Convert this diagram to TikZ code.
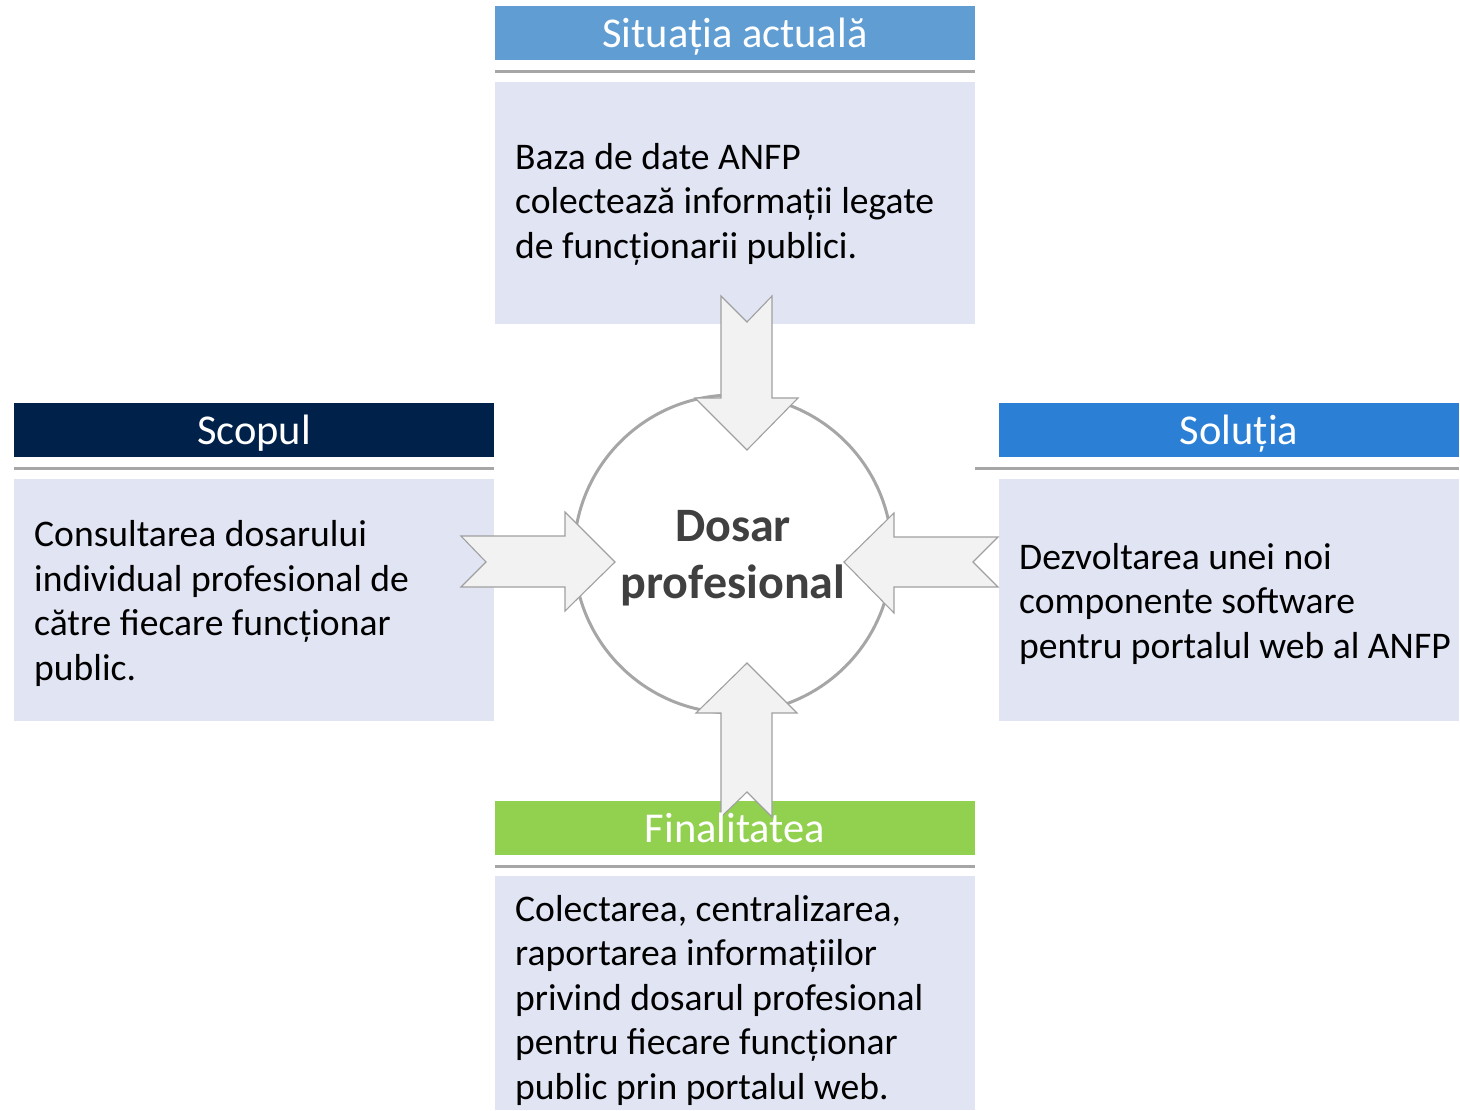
\documentclass[tikz,border=0pt]{standalone}
\usepackage{fontspec}
\setmainfont{Carlito}
\definecolor{hdrTop}{HTML}{5F9DD3}
\definecolor{hdrLeft}{HTML}{00214A}
\definecolor{hdrRight}{HTML}{2B80D6}
\definecolor{hdrBottom}{HTML}{92D050}
\definecolor{bodyFill}{HTML}{E1E4F2}
\definecolor{lineGray}{HTML}{A6A6A6}
\definecolor{arrowFill}{HTML}{F2F2F2}
\definecolor{arrowLine}{HTML}{A0A0A0}
\definecolor{darkText}{HTML}{404040}
\begin{document}
\begin{tikzpicture}[x=1pt,y=-1pt,
  hdr/.style={anchor=base,text=white,inner sep=0pt,font=\fontsize{42.5}{48}\selectfont},
  bodytext/.style={anchor=base west,align=left,inner sep=0pt,text=black,font=\fontsize{37.6}{44.4}\selectfont},
  divider/.style={draw=lineGray,line width=3pt},
  blockarrow/.style={draw=arrowLine,fill=arrowFill,line width=1.1pt,line join=miter}]
\useasboundingbox (0,0) rectangle (1460,1111);
% centre circle
\node[circle,draw=lineGray,line width=3pt,minimum size=318pt,inner sep=0pt] (c) at (733,554) {};
% header bars
\fill[hdrTop] (495,6) rectangle (975,60);
\fill[hdrLeft] (14,403) rectangle (494,457);
\fill[hdrRight] (999,403) rectangle (1459,457);
\fill[hdrBottom] (495,801) rectangle (975,855);
% divider lines
\draw[divider] (495,71) -- (975,71);
\draw[divider] (14,468) -- (494,468);
\draw[divider] (975,468) -- (1459,468);
\draw[divider] (495,866) -- (975,866);
% body boxes
\fill[bodyFill] (495,82) rectangle (975,324);
\fill[bodyFill] (14,479) rectangle (494,721);
\fill[bodyFill] (999,479) rectangle (1459,721);
\fill[bodyFill] (495,876) rectangle (975,1110);
% block arrows
\draw[blockarrow] (721,296) -- (747,322) -- (772,296) -- (772,398) -- (798,398) -- (747,450) -- (695,398) -- (721,398) -- cycle;
\draw[blockarrow] (461,536) -- (565,536) -- (565,512) -- (615,562) -- (565,611) -- (565,587) -- (461,587) -- (486,562) -- cycle;
\draw[blockarrow] (998,537) -- (894,537) -- (894,513) -- (844,562) -- (894,613) -- (894,587) -- (998,587) -- (973,562) -- cycle;
\draw[blockarrow] (721,817) -- (747,792) -- (772,817) -- (772,713) -- (797,713) -- (747,663) -- (696,713) -- (721,713) -- cycle;
% header texts
\node[hdr] (tTop) at (735,47) {Situația actuală};
\node[hdr] (tLeft) at (254,444) {Scopul};
\node[hdr] (tRight) at (1239,444) {Soluția};
\node[hdr] (tBottom) at (735,842) {Finalitatea};
% centre text (base anchor = last line)
\node[anchor=base,align=center,inner sep=0pt,text=darkText,font=\fontsize{48}{57}\selectfont\bfseries] (dp) at (733,598) {Dosar\\profesional};
% body texts (base anchor = last line)
\node[bodytext] (bTop) at (515,258) {Baza de date ANFP\\colectează informații legate\\de funcționarii publici.};
\node[bodytext] (bLeft) at (34,680) {Consultarea dosarului\\individual profesional de\\către fiecare funcționar\\public.};
\node[bodytext] (bRight) at (1019,658) {Dezvoltarea unei noi\\componente software\\pentru portalul web al ANFP};
\node[bodytext] (bBottom) at (515,1099) {Colectarea, centralizarea,\\raportarea informațiilor\\privind dosarul profesional\\pentru fiecare funcționar\\public prin portalul web.};
\end{tikzpicture}
\end{document}
